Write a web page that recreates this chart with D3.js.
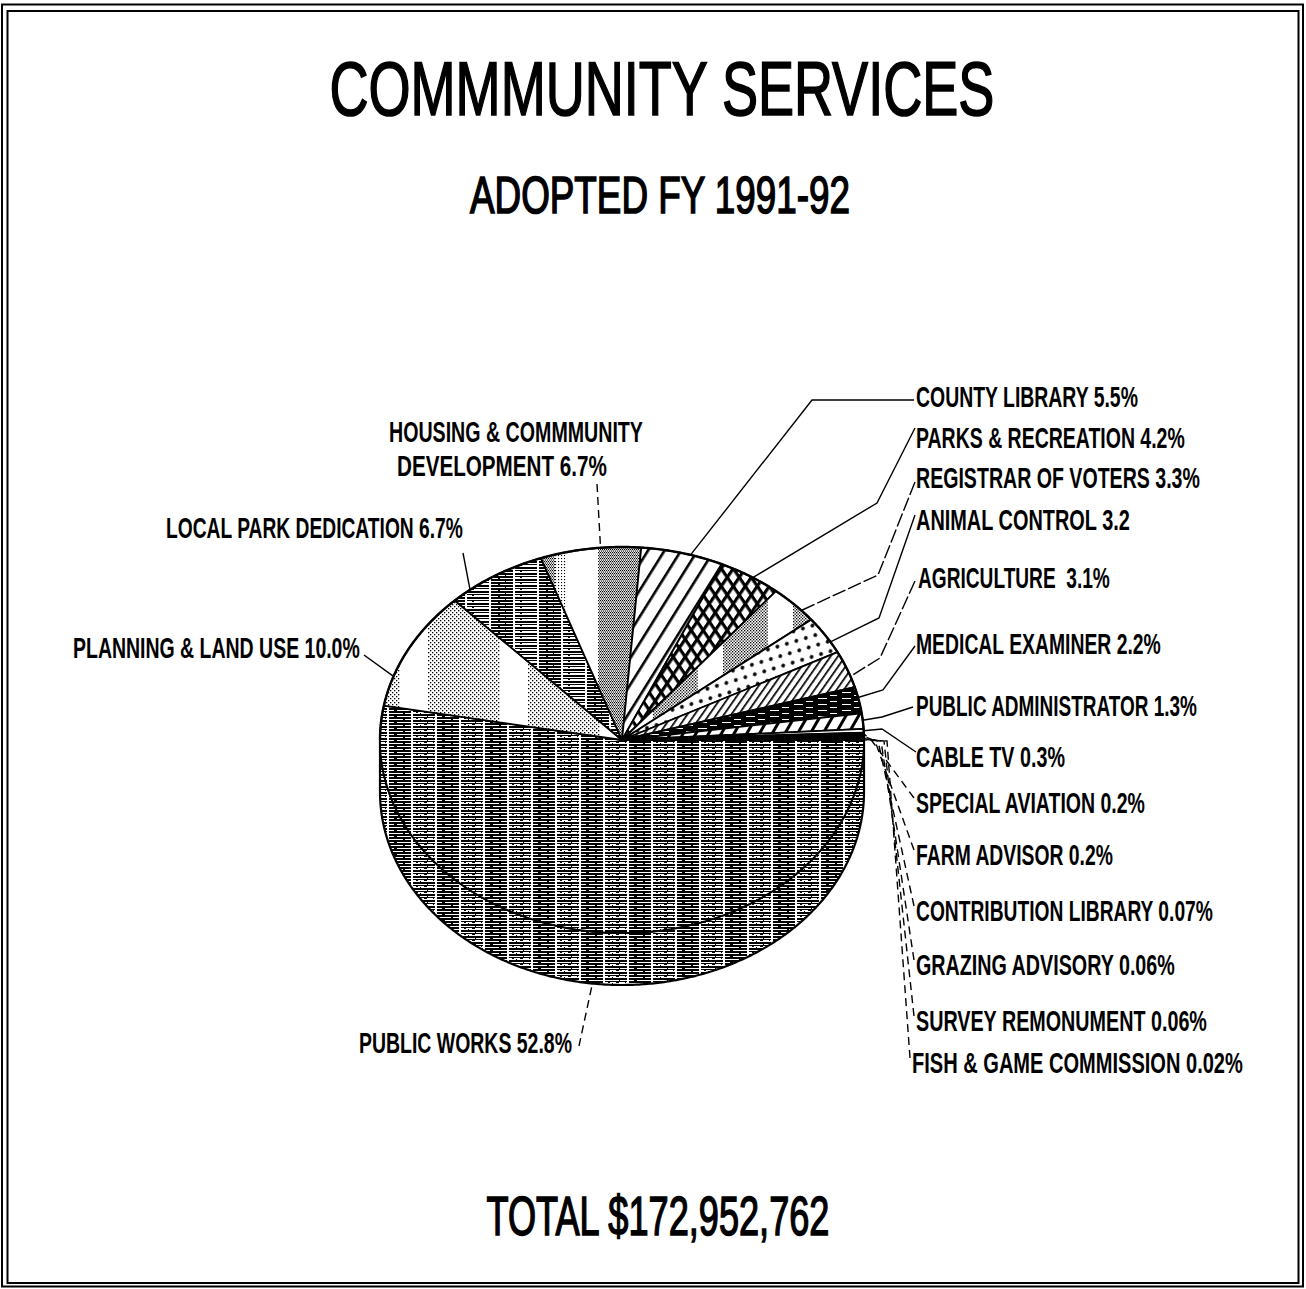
<!DOCTYPE html>
<html><head><meta charset="utf-8">
<script src="https://cdn.jsdelivr.net/npm/d3@7"></script>
<style>
html,body{margin:0;padding:0;background:#fff;}
svg{display:block;}
text{font-family:"Liberation Sans",Arial,sans-serif;font-weight:bold;fill:#000;white-space:pre;}
text.big{font-weight:normal;stroke:#000;stroke-width:1.6px;}
</style></head><body>
<svg id="chart" width="1306" height="1289"></svg>
<script>
// ---------- data ----------
const titleText = "COMMMUNITY SERVICES";
const subtitleText = "ADOPTED FY 1991-92";
const totalText = "TOTAL $172,952,762";
const categories = ["PUBLIC WORKS","PLANNING & LAND USE","LOCAL PARK DEDICATION","HOUSING & COMMMUNITY DEVELOPMENT",
  "COUNTY LIBRARY","PARKS & RECREATION","REGISTRAR OF VOTERS","ANIMAL CONTROL","AGRICULTURE","MEDICAL EXAMINER",
  "PUBLIC ADMINISTRATOR","CABLE TV","SPECIAL AVIATION","FARM ADVISOR","CONTRIBUTION LIBRARY","GRAZING ADVISORY",
  "SURVEY REMONUMENT","FISH & GAME COMMISSION"];
const percents = [52.8,10.0,6.7,6.7,5.5,4.2,3.3,3.2,3.1,2.2,1.3,0.3,0.2,0.2,0.07,0.06,0.06,0.02];
const labelLines = [
  ["PUBLIC WORKS 52.8%"],["PLANNING & LAND USE 10.0%"],["LOCAL PARK DEDICATION 6.7%"],
  ["HOUSING & COMMMUNITY","DEVELOPMENT 6.7%"],["COUNTY LIBRARY 5.5%"],["PARKS & RECREATION 4.2%"],
  ["REGISTRAR OF VOTERS 3.3%"],["ANIMAL CONTROL 3.2"],["AGRICULTURE  3.1%"],["MEDICAL EXAMINER 2.2%"],
  ["PUBLIC ADMINISTRATOR 1.3%"],["CABLE TV 0.3%"],["SPECIAL AVIATION 0.2%"],["FARM ADVISOR 0.2%"],
  ["CONTRIBUTION LIBRARY 0.07%"],["GRAZING ADVISORY 0.06%"],["SURVEY REMONUMENT 0.06%"],["FISH & GAME COMMISSION 0.02%"]];
const slicePatterns = ["pw","dotsLight","pw2","dotsDense","diag","xhatch","dotsMed","sparseDots","diagDense",
  "blackDash","diagWide","white","black","black","black","black","black","black"];

// ---------- layout ----------
const labelLayout = [
  {x:[359],y:[1053],w:[213],leader:[[579,1046]],frac:0.51,dash:true,bottom:true},
  {x:[73],y:[658],w:[287],leader:[[364,655]],frac:0.25},
  {x:[166],y:[538],w:[297],leader:[[463,553]],frac:0.2},
  {x:[389,397],y:[442,476],w:[254,210],leader:[[597,484]],frac:0.6,dash:true},
  {x:[916],y:[407],w:[222],leader:[[914,400],[812,400]],frac:0.6},
  {x:[916],y:[448],w:[269],leader:[[915,428],[877,503]],frac:0.55},
  {x:[916],y:[488],w:[284],leader:[[915,482],[878,575]],frac:0.7,dash:"14,3"},
  {x:[916],y:[530],w:[214],leader:[[915,515],[879,618]],frac:0.7},
  {x:[918],y:[588],w:[192],leader:[[915,581],[880,658]],frac:0.7,dash:"14,3"},
  {x:[916],y:[654],w:[245],leader:[[915,646],[883,690]],frac:0.4},
  {x:[916],y:[716],w:[281],leader:[[913,707],[882,717]],frac:0.45},
  {x:[916],y:[767],w:[149],leader:[[916,752],[882,729]],frac:0.5},
  {x:[916],y:[813],w:[229],leader:[[914,798],[872,741]],frac:0.5,dash:true},
  {x:[916],y:[865],w:[197],leader:[[914,850],[875,741]],frac:0.5,dash:true},
  {x:[916],y:[921],w:[297],leader:[[914,906],[878,741]],frac:0.5,dash:true},
  {x:[916],y:[975],w:[259],leader:[[914,960],[881,741]],frac:0.5,dash:true},
  {x:[916],y:[1031],w:[291],leader:[[914,1016],[884,741]],frac:0.5,dash:true},
  {x:[912],y:[1073],w:[331],leader:[[910,1058],[887,741]],frac:0.5,dash:true}
];
const cx = 622, cy = 740, rx = 242, ry = 193, depth = 52;

const svg = d3.select("#chart");
svg.append("rect").attr("width",1306).attr("height",1289).attr("fill","#fff");

// ---------- patterns ----------
const defs = svg.append("defs");
function pat(id,w,h,transform,bg,build){
  const p = defs.append("pattern").attr("id",id).attr("patternUnits","userSpaceOnUse")
    .attr("width",w).attr("height",h);
  if (transform) p.attr("patternTransform",transform);
  p.append("rect").attr("width",w).attr("height",h).attr("fill",bg);
  build(p);
}
function r(p,x,y,w,h,f){p.append("rect").attr("x",x).attr("y",y).attr("width",w).attr("height",h).attr("fill",f||"#000");}
pat("pw",48,6,"translate(4,0)","#fff",p=>{
  r(p,1,0,22,2);r(p,1,3,22,2);r(p,6,2,3,1);r(p,15,5,2,1);
  r(p,25,0,22,2);r(p,25,3,22,1);
  r(p,28,4,2,1);r(p,36,4,3,1);r(p,42,1,2,1);r(p,32,5,1,1);r(p,45,4,1,1);r(p,39,2,1,1);
  r(p,24,0,1,6,"#fff");r(p,0,0,1,6,"#fff");
});
pat("pw2",48,6,"translate(10,0)","#fff",p=>{
  r(p,1,0,22,2);r(p,1,3,22,2);
  r(p,25,0,22,1);r(p,25,3,22,2);
  r(p,30,1,2,1);r(p,38,4,3,1);r(p,8,2,2,1);r(p,15,5,1,1);
});
pat("dotsLight",100,4,"translate(28,0)","#fff",p=>{
  for(let x=0;x<72;x+=4){r(p,x,0,1.3,1.3);r(p,x+2,2,1.3,1.3);}
});
pat("dotsMed",70,3,"translate(23,0)","#fff",p=>{
  for(let x=0;x<44;x+=3){r(p,x,0,1.3,1.3);r(p,x+1.5,1.5,1.3,1.3);}
});
pat("dotsDense",90,3,"translate(15,0)","#fff",p=>{
  for(let x=0;x<12;x+=3){r(p,x,0,1.1,1.1);}
  for(let x=43;x<90;x+=2){r(p,x,0,1.15,1.15);r(p,x+1,1.5,1.15,1.15);}
});
pat("diag",14,14,"rotate(32)","#fff",p=>{r(p,0,0,2.6,14);});
pat("xhatch",10,10,"scale(0.85,1.25) rotate(45)","#fff",p=>{r(p,0,0,10,3.2);r(p,0,0,3.2,10);});
pat("sparseDots",14,14,"rotate(28)","#fff",p=>{
  p.append("circle").attr("cx",3).attr("cy",3).attr("r",1.9).attr("fill","#000");
  p.append("circle").attr("cx",10).attr("cy",10).attr("r",1.9).attr("fill","#000");
});
pat("diagDense",6,6,"rotate(35)","#fff",p=>{r(p,0,0,1.7,6);});
pat("blackDash",24,6,null,"#000",p=>{r(p,2,2,9,1,"#fff");r(p,14,5,7,1,"#fff");});
pat("diagWide",11,11,"rotate(30)","#fff",p=>{r(p,0,0,3,11);});

function fillOf(k){ return k==="white"?"#fff":k==="black"?"#000":`url(#${k})`; }

// ---------- frame ----------
svg.append("rect").attr("x",2).attr("y",4.5).attr("width",1301).attr("height",1282)
  .attr("fill","none").attr("stroke","#000").attr("stroke-width",2);
svg.append("rect").attr("x",7.5).attr("y",11).attr("width",1291).attr("height",1272)
  .attr("fill","none").attr("stroke","#000").attr("stroke-width",2);

// condensed text: natural glyphs scaled horizontally to the reference width
function fitText(g,str,x,y,size,w,anchor,cls){
  const t = g.append("text").attr("font-size",size).text(str);
  if (cls) t.attr("class",cls);
  const nat = t.node().getComputedTextLength();
  const sx = w/nat;
  const x0 = anchor==="middle" ? x - w/2 : x;
  t.attr("transform",`translate(${x0},${y}) scale(${sx.toFixed(4)},1)`);
  return t;
}

// ---------- titles ----------
const tG = svg.append("g");
fitText(tG,titleText,662,115,76,665,"middle","big");
fitText(tG,subtitleText,660,213,52,380,"middle","big");
fitText(tG,totalText,658,1235,56,343,"middle","big");

// ---------- pie ----------
const pie = d3.pie().sort(null).value(d=>d).startAngle(Math.PI/2).endAngle(Math.PI/2+2*Math.PI);
const arcs = pie(percents);
const ept = (a,yc)=>[cx+rx*Math.sin(a), yc-ry*Math.cos(a)];
function arcPts(a0,a1,yc){
  const n = Math.max(2,Math.ceil(Math.abs(a1-a0)/(Math.PI/360)));
  return d3.range(n+1).map(i=>ept(a0+(a1-a0)*i/n,yc));
}
const line = d3.line();
const pieG = svg.append("g");

// side (extrusion) of the lower half
const sidePts = arcPts(Math.PI/2,3*Math.PI/2,cy).concat(arcPts(3*Math.PI/2,Math.PI/2,cy+depth));
pieG.append("path").attr("d",line(sidePts)+"Z").attr("fill","url(#pw)")
  .attr("stroke","#000").attr("stroke-width",2.2).attr("stroke-linejoin","round");

// top face slices
pieG.selectAll("path.slice").data(arcs).join("path").attr("class","slice")
  .attr("d",d=>line([[cx,cy]].concat(arcPts(d.startAngle,d.endAngle,cy)))+"Z")
  .attr("fill",(d,i)=>fillOf(slicePatterns[i]))
  .attr("stroke","#000").attr("stroke-width",1.8).attr("stroke-linejoin","round");

// upper rim outline
pieG.append("path").attr("d",line(arcPts(-Math.PI/2,Math.PI/2,cy))).attr("fill","none")
  .attr("stroke","#000").attr("stroke-width",2.4);

// ---------- labels and leaders ----------
const labG = svg.append("g");
arcs.forEach((d,i)=>{
  const L = labelLayout[i];
  const a = d.startAngle + (d.endAngle-d.startAngle)*L.frac;
  const pp = ept(a, L.bottom ? cy+depth : cy);
  const pts = L.leader.concat([pp]);
  labG.append("path").attr("d",line(pts)).attr("fill","none").attr("stroke","#000")
    .attr("stroke-width",1.4).attr("stroke-dasharray",L.dash===true?"8,5":(L.dash||null));
  labelLines[i].forEach((t,j)=>{
    fitText(labG,t,L.x[j],L.y[j],29,L.w[j],"start");
  });
});
</script>
</body></html>
